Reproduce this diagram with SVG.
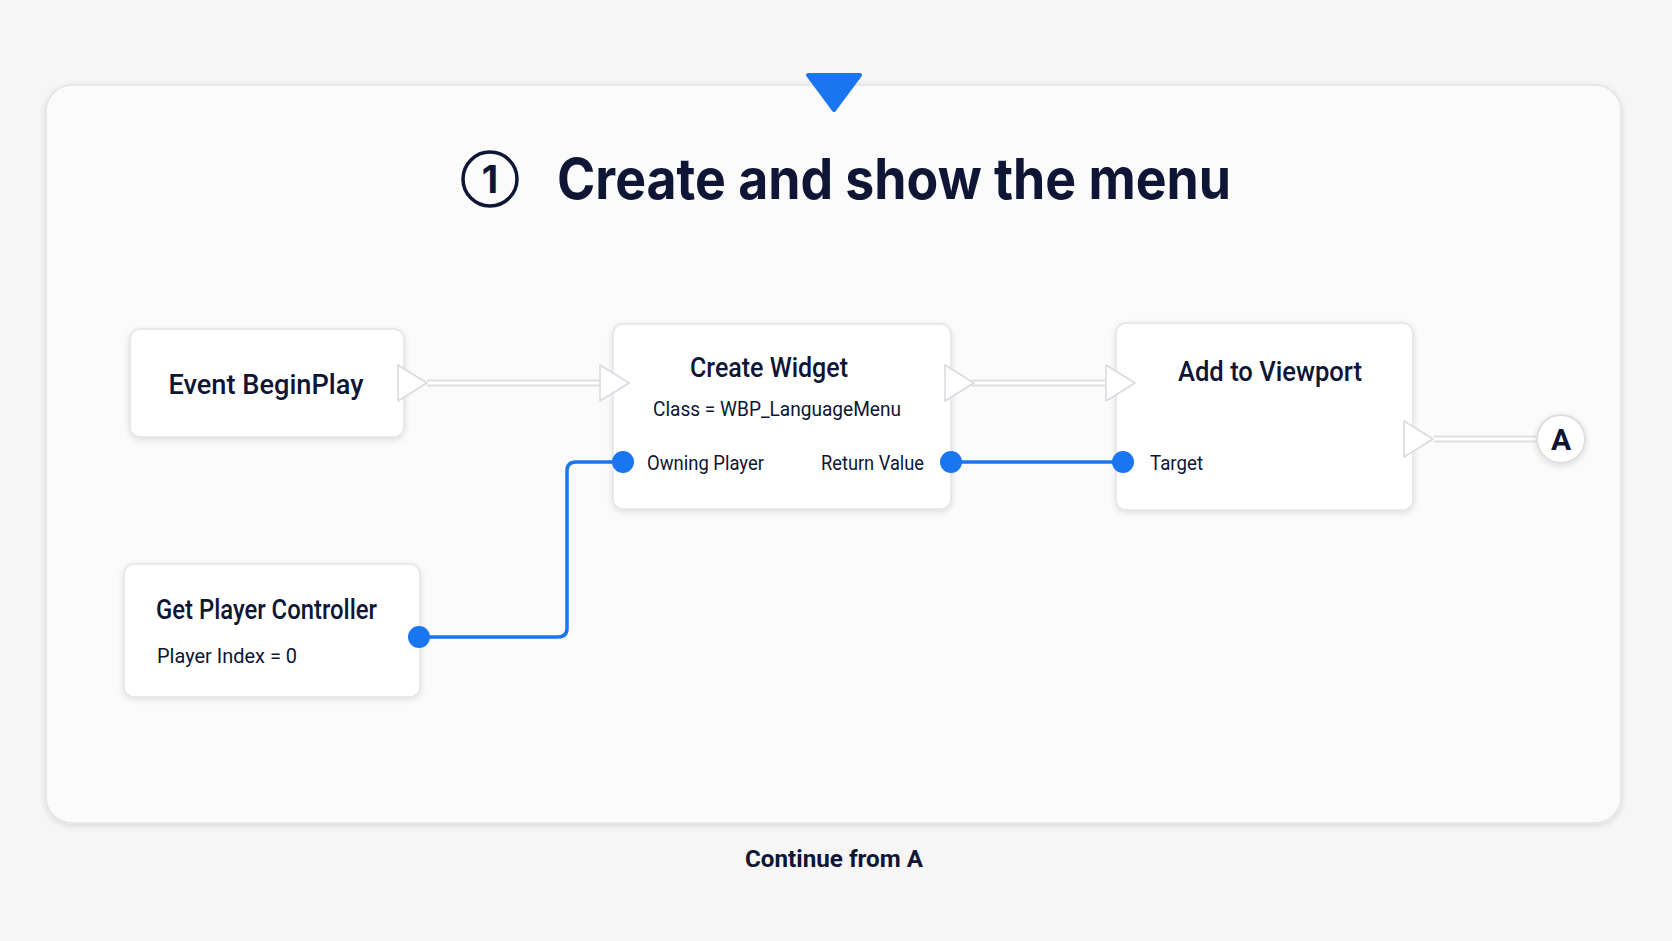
<svg xmlns="http://www.w3.org/2000/svg" width="1672" height="941" viewBox="0 0 1672 941">
<defs>
<filter id="sh" x="-10%" y="-10%" width="120%" height="130%"><feDropShadow dx="0" dy="2" stdDeviation="3" flood-color="#000" flood-opacity="0.12"/></filter>
<style>
.node{fill:#fff;stroke:#e2e4e8;stroke-width:1.5;filter:url(#sh)}
.t{font-family:Roboto,"Liberation Sans",sans-serif;fill:#0e1535}
.h{font-size:27px;font-weight:500}
.s{font-size:20px}
.exec{fill:#fff;stroke:#d8dadf;stroke-width:1.5;stroke-linejoin:round}
.eline{stroke:#dcdee2;stroke-width:7;fill:none}
.eline2{stroke:#fff;stroke-width:3;fill:none}
.wire{stroke:#1a75f0;stroke-width:3.5;fill:none;stroke-linejoin:round}
.pin{fill:#1a75f0}
</style>
</defs>
<rect width="1672" height="941" fill="#f6f6f7"/>
<rect x="46" y="85" width="1575" height="738" rx="26" fill="#fbfbfb" stroke="#e3e4e6" stroke-width="1.5" filter="url(#sh)"/>
<path d="M808 75 L860 75 L834 110 Z" fill="#1a75f0" stroke="#1a75f0" stroke-width="4" stroke-linejoin="round"/>
<g id="title">
<circle cx="490" cy="179" r="27" fill="none" stroke="#0e1535" stroke-width="3.5"/>
<text x="490" y="193" text-anchor="middle" font-family="Inter,'Liberation Sans',sans-serif" font-size="38" font-weight="700" fill="#0e1535">1</text>
<text x="557" y="199" font-family="Inter,'Liberation Sans',sans-serif" font-size="56" font-weight="700" fill="#0e1535" textLength="674" lengthAdjust="spacingAndGlyphs">Create and show the menu</text>
</g>
<g id="connectors">
<path class="eline" d="M427 383 H603"/><path class="eline2" d="M427 383 H603"/>
<path class="eline" d="M972 383 H1110"/><path class="eline2" d="M972 383 H1110"/>
<path class="eline" d="M1434 439 H1537"/><path class="eline2" d="M1434 439 H1537"/>
<path class="wire" d="M419 637 H558 Q567 637 567 628 V471 Q567 462 576 462 H623"/>
<path class="wire" d="M951 462 H1123"/>
</g>
<g id="n-begin">
<rect class="node" x="130" y="329" width="274" height="108" rx="10"/>
<text class="t h" x="266" y="394" text-anchor="middle" textLength="195" lengthAdjust="spacingAndGlyphs">Event BeginPlay</text>
<path class="exec" d="M398 365 L427 383 L398 401 Z"/>
</g>
<g id="n-create">
<rect class="node" x="613" y="324" width="338" height="185" rx="10"/>
<path class="exec" d="M600 365 L629 383 L600 401 Z"/>
<path class="exec" d="M945 365 L974 383 L945 401 Z"/>
<text class="t h" x="769" y="377" text-anchor="middle" textLength="158" lengthAdjust="spacingAndGlyphs">Create Widget</text>
<text class="t s" x="777" y="416" text-anchor="middle" textLength="248" lengthAdjust="spacingAndGlyphs">Class = WBP_LanguageMenu</text>
<circle class="pin" cx="623" cy="462" r="11"/>
<text class="t s" x="647" y="470" textLength="117" lengthAdjust="spacingAndGlyphs">Owning Player</text>
<text class="t s" x="924" y="470" text-anchor="end" textLength="103" lengthAdjust="spacingAndGlyphs">Return Value</text>
<circle class="pin" cx="951" cy="462" r="11"/>
</g>
<g id="n-add">
<rect class="node" x="1116" y="323" width="297" height="187" rx="10"/>
<path class="exec" d="M1106 365 L1135 383 L1106 401 Z"/>
<path class="exec" d="M1404 421 L1433 439 L1404 457 Z"/>
<text class="t h" x="1270" y="381" text-anchor="middle" textLength="184" lengthAdjust="spacingAndGlyphs">Add to Viewport</text>
<circle class="pin" cx="1123" cy="462" r="11"/>
<text class="t s" x="1150" y="470" textLength="53" lengthAdjust="spacingAndGlyphs">Target</text>
</g>
<g id="n-A">
<circle cx="1561" cy="439" r="24" fill="#fff" stroke="#dcdee2" stroke-width="2" filter="url(#sh)"/>
<text class="t" x="1561" y="450" text-anchor="middle" font-size="30" font-weight="700">A</text>
</g>
<g id="n-get">
<rect class="node" x="124" y="564" width="296" height="133" rx="10"/>
<text class="t h" x="156" y="619" textLength="221" lengthAdjust="spacingAndGlyphs">Get Player Controller</text>
<text class="t s" x="157" y="663" textLength="140" lengthAdjust="spacingAndGlyphs">Player Index = 0</text>
<circle class="pin" cx="419" cy="637" r="11"/>
</g>
<text id="continue" class="t" x="834" y="867" text-anchor="middle" font-size="23" font-weight="700" textLength="178" lengthAdjust="spacingAndGlyphs">Continue from A</text>
</svg>
